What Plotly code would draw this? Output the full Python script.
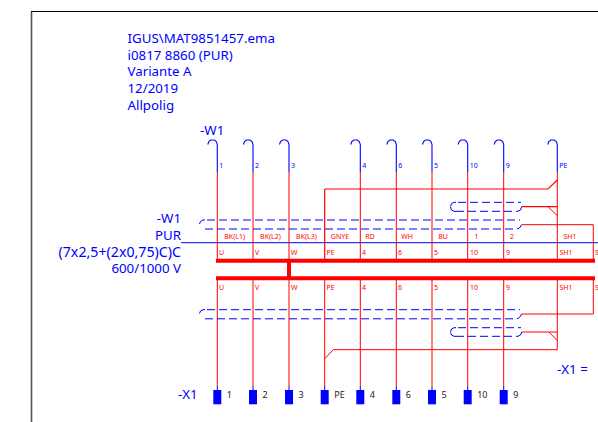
import plotly.graph_objects as go

FONT = "Noto Sans"
RED = "#ff0000"
BLUE = "#0000ff"

# Wire positions (x) and labels
core_x = [217.3, 253, 289, 360.3, 396.3, 432, 467.7, 503.7]
pe_x = 324.7
sh_x = 557.3
sh2_x = 593.3
hook_x = [217.3, 253, 289, 360.3, 396.3, 432, 467.7, 503.7, 557.3]
hook_labels = ["1", "2", "3", "4", "6", "5", "10", "9", "PE"]
hook_dx = [-9.5, -8.5, -6.5, -3, -1, 0, 0]
hook_y = [144.5, 141.5, 140, 140, 141.5, 144.5, 172]
term_x = [217.3, 253, 289, 324.7, 360.3, 396.3, 432, 467.7, 503.7]
term_labels = ["1", "2", "3", "PE", "4", "6", "5", "10", "9"]
colour_x = [234.7, 270.5, 306.5, 340, 370, 407, 443, 476.5, 512, 570]
colour_labels = ["BK(L1)", "BK(L2)", "BK(L3)", "GNYE", "RD", "WH", "BU", "1", "2", "SH1"]
pin_x = [219, 255, 291, 326.5, 362, 398, 434, 470, 506, 559.5, 595]
pin_labels = ["U", "V", "W", "PE", "4", "6", "5", "10", "9", "SH1", "SH1"]
header_lines = ["IGUS\\MAT9851457.ema", "i0817 8860 (PUR)", "Variante A", "12/2019", "Allpolig"]
header_y = [39.5, 56.5, 73, 89.5, 106.5]
cable_lines = ["-W1", "PUR", "600/1000 V"]
cable_y = [219.5, 236.5, 269.5]
cable_long = ["(7x2,5+(2x0,75)C)C"]
cable_long_y = [253]

# Levels
bus_top = 260.7
bus_bot = 278.3
stem_end = 386
box_top = 390
box_bot = 404.3

fig = go.Figure()


def line(xs, ys, color=RED, width=1.0, dash=None):
    fig.add_trace(go.Scatter(x=xs, y=ys, mode="lines", hoverinfo="skip",
                             line=dict(color=color, width=width, dash=dash or "solid"),
                             showlegend=False))


def text(xs, ys, labels, size, color, pos):
    fig.add_trace(go.Scatter(x=xs, y=ys, text=labels, mode="text", textposition=pos,
                             textfont=dict(family=FONT, size=size, color=color),
                             hoverinfo="skip", showlegend=False))


# frame
line([31.5, 31.5], [12, 422], "#555555", 1.6)
line([31, 598], [11.5, 11.5], "#000000", 1.2)

# cable line
line([181, 598], [242.7, 242.7], BLUE, 1)

# hooks
for x in hook_x:
    line([x + d for d in hook_dx], hook_y, BLUE, 1.1)

# cores
for x in core_x:
    line([x, x], [172, bus_top], RED, 1)
    line([x, x], [bus_bot, stem_end], RED, 1)
    line([x, x], [stem_end, box_top], BLUE, 1)
line([pe_x, pe_x], [189, bus_top], RED, 1.2)
line([pe_x, pe_x], [bus_bot, stem_end], RED, 1)
line([pe_x, pe_x], [stem_end, box_top], BLUE, 1)

# PE/shield routing, top
line([pe_x, 548, sh_x], [189, 189, 180], RED, 1.2)
line([sh_x, sh_x], [172, bus_top], RED, 1)
line([521.7, sh_x], [206.7, 206.7], RED, 1.2)
line([548, sh_x], [206.7, 215.7], RED, 1)
line([521.7, sh2_x, sh2_x], [224.7, 224.7, bus_top], RED, 1)

# PE/shield routing, bottom
line([sh_x, sh_x, 333.3, pe_x], [bus_bot, 349.7, 349.7, 358.7], RED, 1)
line([521.7, sh_x], [332, 332], RED, 1.2)
line([549, sh_x], [332, 340.7], RED, 1)
line([521.7, sh2_x, sh2_x], [314, 314, bus_bot], RED, 1)

# bus bars
line([216, 595], [bus_top, bus_top], RED, 4)
line([216, 595], [bus_bot, bus_bot], RED, 4)
line([289, 289], [bus_top, bus_bot], RED, 4)

# shields (long)
DASH = "8px,4px"
line([199.5, 200.5, 203, 205], [224, 221.5, 220, 220], BLUE, 1)
line([207, 520], [220, 220], BLUE, 1, DASH)
line([205, 517], [229, 229], BLUE, 1, DASH)
line([517, 519.5, 521.7], [229, 228, 224.7], BLUE, 1)
line([199.5, 200.5, 203, 205], [313.5, 311, 309.7, 309.7], BLUE, 1)
line([207, 520], [309.7, 309.7], BLUE, 1, DASH)
line([205, 517], [318.8, 318.8], BLUE, 1, DASH)
line([517, 519.5, 521.7], [318.8, 317.5, 314], BLUE, 1)

# shields (short)
line([450.5, 451.5, 454, 456], [206.5, 203.5, 202.3, 202.3], BLUE, 1)
line([458, 521], [202.3, 202.3], BLUE, 1, DASH)
line([450.5, 451.5, 454, 456], [207, 210, 211.3, 211.3], BLUE, 1)
line([456, 518], [211.3, 211.3], BLUE, 1, DASH)
line([518, 520.5, 521.7], [211.3, 210, 206.7], BLUE, 1)
line([450.5, 451.5, 454, 456], [332, 329, 327.7, 327.7], BLUE, 1)
line([458, 521], [327.7, 327.7], BLUE, 1, DASH)
line([450.5, 451.5, 454, 456], [332.5, 335, 336.3, 336.3], BLUE, 1)
line([456, 518], [336.3, 336.3], BLUE, 1, DASH)
line([518, 520.5, 521.7], [336.3, 335, 332], BLUE, 1)

# terminal boxes
for x in term_x:
    line([x, x], [box_top, box_bot], BLUE, 8)

# text
text([127.5] * 5, header_y, header_lines, 13.3, BLUE, "middle right")
text([181] * 3, cable_y, cable_lines, 13.3, BLUE, "middle left")
text([181], cable_long_y, cable_long, 14.2, BLUE, "middle left")
text([200], [131.5], ["-W1"], 13.3, BLUE, "middle right")
text([178], [396], ["-X1"], 13.3, BLUE, "middle right")
text([557], [370.5], ["-X1 ="], 13.3, BLUE, "middle right")
text([x + 2 for x in hook_x], [166.7] * 9, hook_labels, 7, BLUE, "middle right")
text(colour_x, [237.7] * 10, colour_labels, 7, RED, "middle center")
text(pin_x, [253] * 11, pin_labels, 7, RED, "middle right")
text(pin_x, [288] * 11, pin_labels, 7, RED, "middle right")
text([x + 9.5 for x in term_x], [396] * 9, term_labels, 9, "#222222", "middle right")

fig.update_layout(
    width=598, height=422, margin=dict(l=0, r=0, t=0, b=0),
    plot_bgcolor="white", paper_bgcolor="white", showlegend=False,
    xaxis=dict(range=[0, 598], visible=False, fixedrange=True),
    yaxis=dict(range=[422, 0], visible=False, fixedrange=True),
)
fig.write_html("out.html", config={"displayModeBar": False},
               post_script="document.body.style.margin='0';document.body.style.overflow='hidden';")
